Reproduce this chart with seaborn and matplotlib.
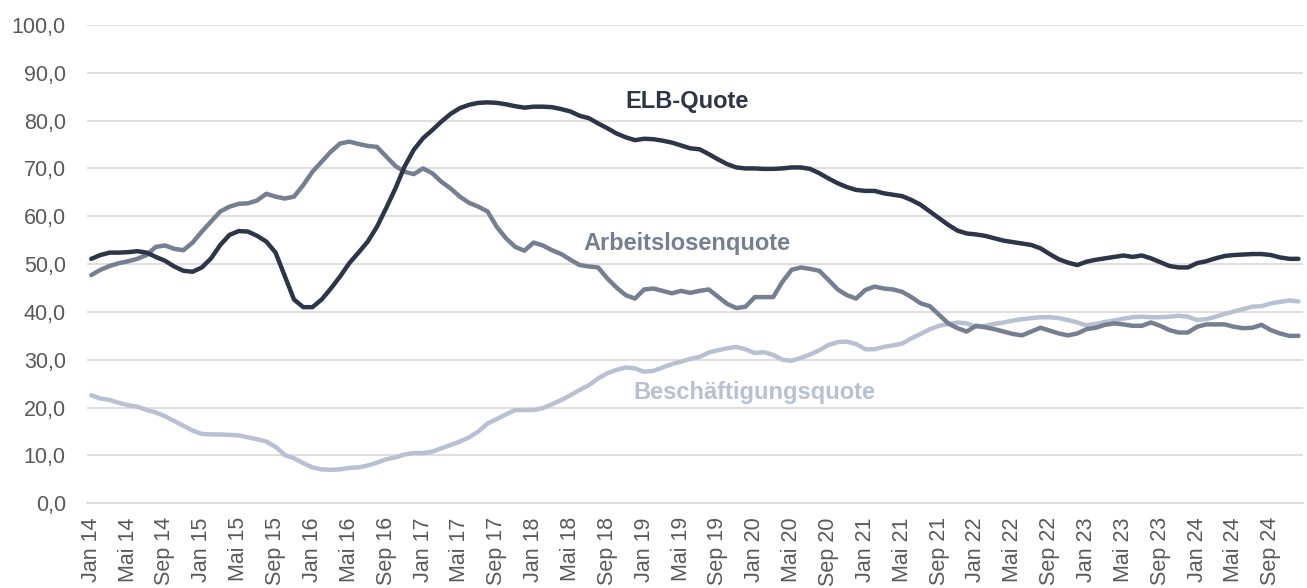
import numpy as np
import pandas as pd
import matplotlib
matplotlib.use("Agg")
import matplotlib.pyplot as plt
import seaborn as sns

months = pd.date_range("2014-01-01", periods=132, freq="MS")
month_names = ["Jan", "Feb", "Mär", "Apr", "Mai", "Jun", "Jul", "Aug", "Sep", "Okt", "Nov", "Dez"]

elb = [51.1, 51.9, 52.4, 52.4, 52.5, 52.7, 52.4, 51.5, 50.7, 49.5, 48.6, 48.4,
       49.3, 51.2, 54.0, 56.1, 56.9, 56.8, 55.9, 54.7, 52.4, 47.5, 42.6, 41.0,
       41.0, 42.6, 44.9, 47.4, 50.2, 52.4, 54.7, 57.8, 61.7, 65.8, 70.4, 73.9,
       76.3, 78.0, 79.8, 81.4, 82.6, 83.3, 83.7, 83.8, 83.7, 83.4, 83.0, 82.7,
       82.9, 82.9, 82.8, 82.4, 81.9, 81.0, 80.5, 79.4, 78.4, 77.3, 76.5, 75.9,
       76.2, 76.1, 75.8, 75.4, 74.8, 74.2, 74.0, 73.0, 71.9, 70.9, 70.2, 70.0,
       70.0, 69.9, 69.9, 70.0, 70.2, 70.2, 69.9, 69.0, 67.9, 66.9, 66.1, 65.5,
       65.3, 65.3, 64.8, 64.5, 64.2, 63.4, 62.4, 61.0, 59.6, 58.2, 57.0, 56.4,
       56.2, 55.9, 55.4, 54.9, 54.6, 54.3, 54.0, 53.3, 52.1, 51.0, 50.3, 49.8,
       50.5, 50.9, 51.2, 51.5, 51.8, 51.5, 51.8, 51.2, 50.4, 49.6, 49.3, 49.3,
       50.2, 50.6, 51.2, 51.7, 51.9, 52.0, 52.1, 52.1, 51.9, 51.4, 51.1, 51.1]

arbeitslos = [47.7, 48.8, 49.6, 50.2, 50.6, 51.1, 51.9, 53.6, 53.9, 53.2, 52.9, 54.5,
              56.8, 58.9, 61.0, 62.0, 62.6, 62.7, 63.3, 64.7, 64.1, 63.7, 64.1, 66.5,
              69.3, 71.4, 73.5, 75.2, 75.6, 75.1, 74.7, 74.5, 72.5, 70.5, 69.3, 68.8,
              70.0, 69.0, 67.2, 65.8, 64.1, 62.8, 62.0, 61.0, 57.8, 55.4, 53.6, 52.8,
              54.5, 53.9, 52.9, 52.1, 50.9, 49.8, 49.5, 49.3, 47.0, 45.1, 43.5, 42.8,
              44.7, 44.9, 44.4, 43.9, 44.4, 44.0, 44.4, 44.7, 43.2, 41.7, 40.8, 41.1,
              43.1, 43.1, 43.1, 46.3, 48.8, 49.3, 49.0, 48.6, 46.7, 44.7, 43.5, 42.8,
              44.6, 45.3, 44.9, 44.7, 44.2, 43.1, 41.8, 41.2, 39.4, 37.6, 36.6, 35.9,
              37.1, 36.8, 36.4, 35.9, 35.4, 35.1, 35.9, 36.7, 36.1, 35.5, 35.1, 35.5,
              36.4, 36.7, 37.3, 37.6, 37.4, 37.1, 37.1, 37.8, 37.1, 36.2, 35.7, 35.7,
              36.9, 37.4, 37.4, 37.4, 36.9, 36.6, 36.7, 37.3, 36.2, 35.5, 35.0, 35.0]

beschaeftigung = [22.6, 21.9, 21.6, 21.0, 20.5, 20.2, 19.5, 19.0, 18.2, 17.2, 16.2, 15.2,
                  14.5, 14.4, 14.4, 14.3, 14.2, 13.8, 13.4, 12.9, 11.8, 10.1, 9.4, 8.4,
                  7.5, 7.1, 7.0, 7.1, 7.4, 7.5, 7.9, 8.5, 9.2, 9.6, 10.2, 10.5,
                  10.5, 10.8, 11.5, 12.2, 12.9, 13.8, 15.0, 16.7, 17.6, 18.6, 19.5, 19.5,
                  19.5, 19.9, 20.7, 21.6, 22.6, 23.7, 24.7, 26.1, 27.2, 27.9, 28.4, 28.2,
                  27.5, 27.7, 28.4, 29.1, 29.6, 30.2, 30.6, 31.5, 32.0, 32.4, 32.7, 32.2,
                  31.4, 31.6, 31.0, 30.0, 29.8, 30.4, 31.1, 32.0, 33.1, 33.7, 33.8, 33.3,
                  32.2, 32.2, 32.7, 33.0, 33.4, 34.5, 35.4, 36.4, 37.1, 37.5, 37.8, 37.6,
                  36.9, 37.1, 37.5, 37.8, 38.2, 38.5, 38.7, 38.9, 38.9, 38.7, 38.3, 37.8,
                  37.2, 37.5, 37.9, 38.2, 38.6, 38.9, 39.0, 38.9, 38.9, 39.0, 39.2, 39.0,
                  38.3, 38.5, 39.0, 39.6, 40.1, 40.6, 41.1, 41.2, 41.8, 42.1, 42.4, 42.2]

series_names = ["ELB-Quote", "Arbeitslosenquote", "Beschäftigungsquote"]
colors = {"ELB-Quote": "#2e3549", "Arbeitslosenquote": "#767e91", "Beschäftigungsquote": "#b9c0d3"}

idx = np.arange(len(months))
df = pd.concat([
    pd.DataFrame({"i": idx, "wert": elb, "serie": "ELB-Quote"}),
    pd.DataFrame({"i": idx, "wert": arbeitslos, "serie": "Arbeitslosenquote"}),
    pd.DataFrame({"i": idx, "wert": beschaeftigung, "serie": "Beschäftigungsquote"}),
])

sns.set_theme(style="white")
plt.rcParams["font.family"] = ["Liberation Sans", "DejaVu Sans"]

fig = plt.figure(figsize=(13.07, 5.88), dpi=100)
ax = fig.add_axes([0.0663, 0.144, 0.9307, 0.8137])

sns.lineplot(data=df, x="i", y="wert", hue="serie", hue_order=series_names[::-1],
             palette=colors, linewidth=3.2, ax=ax, legend=False)

ax.set_xlim(-0.5, len(months) - 0.5)
ax.set_ylim(0, 100)
ax.set_yticks(np.arange(0, 101, 10))
ax.set_yticklabels([f"{v:.1f}".replace(".", ",") for v in np.arange(0, 101, 10)],
                   fontsize=15.5, color="#595959")
ax.yaxis.grid(True, color="#d9d9d9", linewidth=1.2)
ax.set_axisbelow(True)

major = idx[::4]
ax.set_xticks(major)
ax.set_xticklabels([f"{month_names[months[k].month - 1]} {months[k].year % 100:02d}" for k in major],
                   rotation=90, fontsize=15.5, color="#595959")
ax.set_xticks(np.arange(-0.5, len(months), 4), minor=True)
ax.tick_params(axis="x", which="major", length=0, pad=10)
ax.tick_params(axis="x", which="minor", length=5, color="#d9d9d9", width=1.2, direction="out")
ax.tick_params(axis="y", length=0, pad=15)
ax.set_xlabel("")
ax.set_ylabel("")

for s in ["top", "right", "left"]:
    ax.spines[s].set_visible(False)
ax.spines["bottom"].set_color("#d9d9d9")
ax.spines["bottom"].set_linewidth(1.2)

ax.text(64.65, 83.9, "ELB-Quote", fontsize=17, fontweight="bold", color=colors["ELB-Quote"],
        ha="center", va="center")
ax.text(64.65, 54.4, "Arbeitslosenquote", fontsize=17, fontweight="bold",
        color=colors["Arbeitslosenquote"], ha="center", va="center")
ax.text(72.0, 23.1, "Beschäftigungsquote", fontsize=17, fontweight="bold",
        color=colors["Beschäftigungsquote"], ha="center", va="center")

fig.savefig("out.png", dpi=100)
